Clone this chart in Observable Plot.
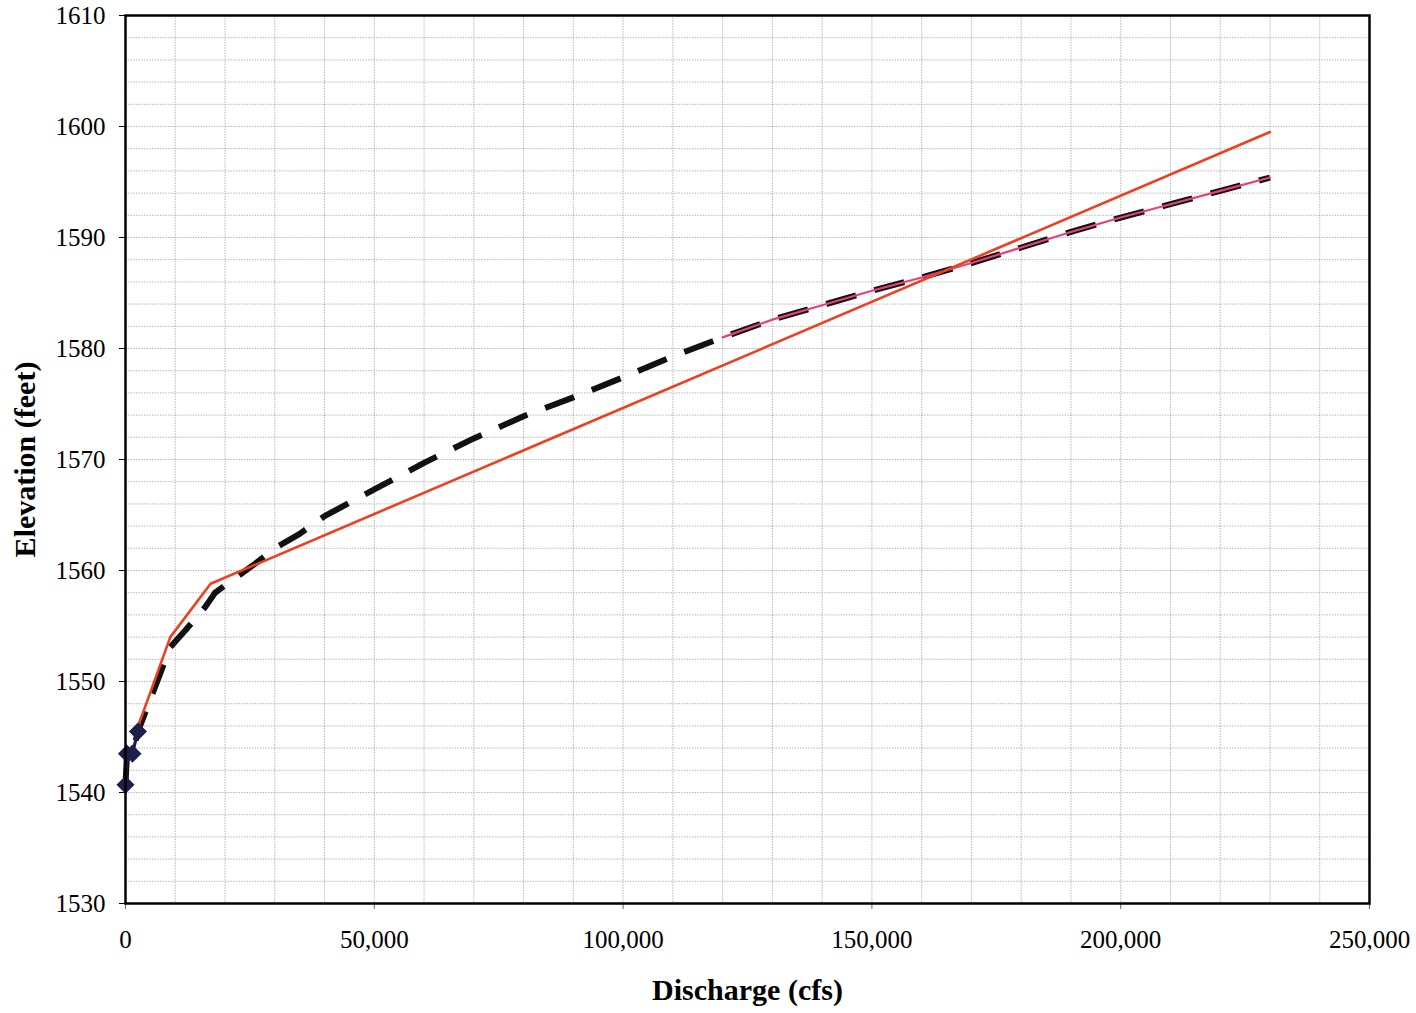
<!DOCTYPE html>
<html>
<head>
<meta charset="utf-8">
<script src="https://cdn.jsdelivr.net/npm/d3@7"></script>
<script src="https://cdn.jsdelivr.net/npm/@observablehq/plot@0.6"></script>
<style>
  html, body { margin: 0; padding: 0; background: white; }
</style>
</head>
<body>
<div id="chart"></div>
<script>
// Observed points (diamonds)
const obsQ    = [0, 300, 1400, 2500];
const obsElev = [1540.7, 1543.5, 1543.5, 1545.5];

// Dashed black rating curve
const dashQ    = [0, 300, 1400, 2500, 5000, 9000, 12000, 16000, 18000, 22000, 26000, 30000, 35000, 40000, 50000, 60000, 70000, 80000, 90000, 100000, 110000, 120000, 130000, 140000, 150000, 160000, 170000, 180000, 190000, 200000, 210000, 220000, 230000];
const dashElev = [1540.7, 1543.5, 1543.5, 1545.5, 1548.4, 1553.1, 1554.6, 1556.7, 1558.0, 1559.3, 1560.6, 1562.0, 1563.3, 1564.9, 1567.3, 1569.7, 1571.9, 1573.9, 1575.6, 1577.4, 1579.3, 1581.0, 1582.6, 1583.9, 1585.2, 1586.4, 1587.7, 1589.1, 1590.5, 1591.8, 1593.0, 1594.2, 1595.4];

// Pink curve (upper portion)
const pinkQ    = [120000, 130000, 140000, 150000, 160000, 170000, 180000, 190000, 200000, 210000, 220000, 230000];
const pinkElev = [1581.0, 1582.6, 1583.9, 1585.2, 1586.4, 1587.7, 1589.1, 1590.5, 1591.8, 1593.0, 1594.2, 1595.4];

// Red curve
const redQ    = [1400, 2800, 9000, 17100, 230000];
const redElev = [1543.5, 1546.3, 1554.0, 1558.8, 1599.5];

// Ticks
const xTicks = [0, 50000, 100000, 150000, 200000, 250000];
const yTicks = [1530, 1540, 1550, 1560, 1570, 1580, 1590, 1600, 1610];
const xGrid = d3.range(0, 250001, 10000);
const yGrid = d3.range(1530, 1611, 2);

const xTitle = "Discharge (cfs)";
const yTitle = "Elevation (feet)";

const toRows = (xs, ys) => xs.map((x, i) => ({x, y: ys[i]}));
const obs = toRows(obsQ, obsElev);
const dash = toRows(dashQ, dashElev);
const pink = toRows(pinkQ, pinkElev);
const red = toRows(redQ, redElev);

const chart = Plot.plot({
  width: 1416,
  height: 1013,
  marginLeft: 125,
  marginRight: 47,
  marginTop: 15,
  marginBottom: 110,
  x: {domain: [0, 250000]},
  y: {domain: [1530, 1610]},
  style: {fontFamily: "'Liberation Serif', 'Times New Roman', serif", fontSize: "25px", color: "black", background: "white"},
  marks: [
    Plot.gridX(xGrid, {stroke: "#8e8e9c", strokeOpacity: 0.65, strokeWidth: 1, strokeDasharray: "1.5,1.2"}),
    Plot.gridY(yGrid, {stroke: "#8e8e9c", strokeOpacity: 0.65, strokeWidth: 1, strokeDasharray: "1.5,1.2"}),
    Plot.axisX({ticks: xTicks, tickFormat: d3.format(","), tickSize: 6, tickPadding: 21, label: null, fontSize: 25, stroke: "#666"}),
    Plot.axisY({ticks: yTicks, tickFormat: d => String(d), tickSize: 6, tickPadding: 14, label: null, fontSize: 25}),
    Plot.line(dash, {x: "x", y: "y", stroke: "#111", strokeWidth: 6, strokeDasharray: "31,19", strokeLinecap: "butt", strokeLinejoin: "round"}),
    Plot.line(pink, {x: "x", y: "y", stroke: "#e8407a", strokeWidth: 2.2}),
    Plot.line(red, {x: "x", y: "y", stroke: "#ee3f1f", strokeWidth: 2.6}),
    Plot.line(obs, {x: "x", y: "y", stroke: "#1c1f4c", strokeWidth: 3}),
    Plot.dot(obs, {x: "x", y: "y", symbol: "diamond2", r: 7.2, fill: "#1c1f4c", stroke: "#1c1f4c"}),
    Plot.frame({stroke: "black", strokeWidth: 2.5}),
    Plot.text([xTitle], {frameAnchor: "bottom", dy: 96, textAnchor: "middle", fontWeight: "bold", fontSize: 30, fill: "black"}),
    Plot.text([yTitle], {frameAnchor: "left", dx: -100, rotate: -90, textAnchor: "middle", fontWeight: "bold", fontSize: 30, fill: "black"})
  ]
});
document.getElementById("chart").appendChild(chart);
</script>
</body>
</html>
